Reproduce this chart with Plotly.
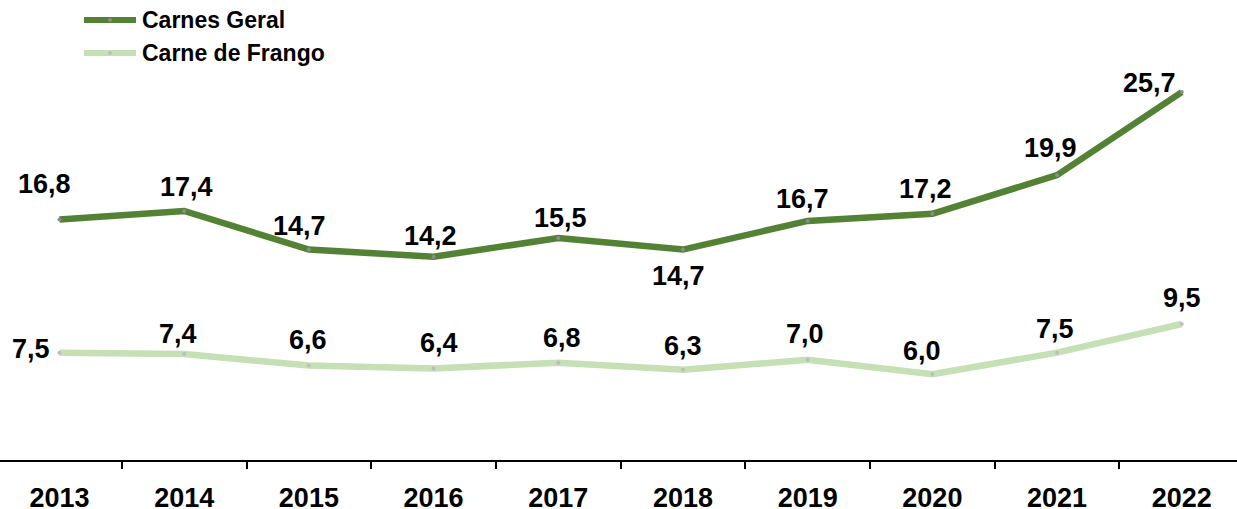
import plotly.graph_objects as go

# ---- data ----
years = ["2013", "2014", "2015", "2016", "2017", "2018", "2019", "2020", "2021", "2022"]
carnes_geral = [16.8, 17.4, 14.7, 14.2, 15.5, 14.7, 16.7, 17.2, 19.9, 25.7]
carne_frango = [7.5, 7.4, 6.6, 6.4, 6.8, 6.3, 7.0, 6.0, 7.5, 9.5]
series_names = ["Carnes Geral", "Carne de Frango"]

# ---- styles / label offsets (pixels) ----
DARK = "#548235"
LIGHT = "#C5E0B4"
FONT = "Arial, Liberation Sans, sans-serif"
W, H = 1237, 509
PLOT_H = 460

geral_dx = [-15, 2, -9, -3, 2, -4, -5, -7, -7, -32]
geral_dy = [36, 24, 24, 21, 20, -26, 22, 25, 27, 9]
frango_dx = [-28, -6, -1, 5, 4, 0, -3, -10, -2, 0]
frango_dy = [4, 20, 26, 25, 25, 24, 26, 23, 24, 26]


def fmt(v):
    return f"{v:.1f}".replace(".", ",")


fig = go.Figure()
fig.add_trace(go.Scatter(
    x=years, y=carnes_geral, mode="lines+markers", name=series_names[0],
    line=dict(color=DARK, width=6.5),
    marker=dict(size=4, color="#8c8c8c", line=dict(width=0)),
    cliponaxis=False, showlegend=False,
))
fig.add_trace(go.Scatter(
    x=years, y=carne_frango, mode="lines+markers", name=series_names[1],
    line=dict(color=LIGHT, width=6.5),
    marker=dict(size=4, color="#bdbdbd", line=dict(width=0)),
    cliponaxis=False, showlegend=False,
))

annotations = []
for vals, dxs, dys in ((carnes_geral, geral_dx, geral_dy), (carne_frango, frango_dx, frango_dy)):
    for i, (v, dx, dy) in enumerate(zip(vals, dxs, dys)):
        annotations.append(dict(
            x=i, y=v, xref="x", yref="y", text=fmt(v), showarrow=False,
            xshift=dx, yshift=dy, xanchor="center", yanchor="middle",
            font=dict(family=FONT, size=27, color="#000000", weight="bold"),
        ))

# manual legend
legend_rows = [(series_names[0], DARK, "#8c8c8c", 20), (series_names[1], LIGHT, "#bdbdbd", 53)]
shapes = []
for name, col, mcol, py in legend_rows:
    yp = (PLOT_H - py) / PLOT_H
    shapes.append(dict(type="line", xref="paper", yref="paper",
                       x0=84 / W, x1=136 / W, y0=yp, y1=yp,
                       line=dict(color=col, width=6)))
    shapes.append(dict(type="circle", xref="paper", yref="paper",
                       x0=108 / W, x1=112 / W, y0=yp - 2 / PLOT_H, y1=yp + 2 / PLOT_H,
                       fillcolor=mcol, line=dict(width=0)))
    annotations.append(dict(
        x=140 / W, y=yp, xref="paper", yref="paper", text=name, showarrow=False,
        xanchor="left", yanchor="middle",
        font=dict(family=FONT, size=23, color="#000000", weight="bold"),
    ))

fig.update_layout(
    width=W, height=H,
    margin=dict(l=0, r=0, t=0, b=H - PLOT_H, autoexpand=False),
    paper_bgcolor="white", plot_bgcolor="white",
    showlegend=False,
    annotations=annotations, shapes=shapes,
    xaxis=dict(
        type="category", range=[-0.477, 9.443], automargin=False,
        showgrid=False, zeroline=False,
        showline=True, linecolor="#000000", linewidth=1.5,
        ticks="outside", ticklen=7, tickwidth=1.5, tickcolor="#000000",
        tickson="boundaries", ticklabelstandoff=13,
        tickfont=dict(family=FONT, size=27, color="#000000", weight="bold"),
    ),
    yaxis=dict(range=[0, 460 / 14.315], visible=False, automargin=False,
               showgrid=False, zeroline=False),
)

fig.write_html("out.html", config={"displayModeBar": False},
               post_script="document.body.style.margin='0';")
